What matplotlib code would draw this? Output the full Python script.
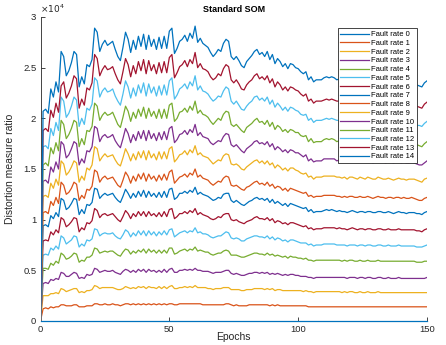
import matplotlib
matplotlib.use('Agg')
import matplotlib.pyplot as plt
from matplotlib.ticker import FuncFormatter

plt.rcParams['font.family'] = ['Liberation Sans', 'DejaVu Sans']

# distortion measure per epoch (epoch 0..150), in units of 100
fault_rate_0 = [
    0, 0, 0, 0, 0, 0, 0, 0, 0, 0, 0, 0, 0, 0, 0, 0, 0, 0, 0, 0, 0, 0, 0, 0, 0, 0, 0, 0, 0, 0,
    0, 0, 0, 0, 0, 0, 0, 0, 0, 0, 0, 0, 0, 0, 0, 0, 0, 0, 0, 0, 0, 0, 0, 0, 0, 0, 0, 0, 0, 0,
    0, 0, 0, 0, 0, 0, 0, 0, 0, 0, 0, 0, 0, 0, 0, 0, 0, 0, 0, 0, 0, 0, 0, 0, 0, 0, 0, 0, 0, 0,
    0, 0, 0, 0, 0, 0, 0, 0, 0, 0, 0, 0, 0, 0, 0, 0, 0, 0, 0, 0, 0, 0, 0, 0, 0, 0, 0, 0, 0, 0,
    0, 0, 0, 0, 0, 0, 0, 0, 0, 0, 0, 0, 0, 0, 0, 0, 0, 0, 0, 0, 0, 0, 0, 0, 0, 0, 0, 0, 0, 0,
    0]
fault_rate_1 = [
    0, 12, 13, 12, 14, 13, 14, 14, 16, 16, 15, 15, 15, 16, 16, 14, 14, 14, 15, 15,
    15, 17, 17, 16, 16, 17, 16, 16, 17, 16, 16, 15, 16, 17, 17, 16, 17, 16, 17, 16,
    17, 16, 17, 16, 17, 16, 17, 16, 17, 16, 17, 17, 16, 16, 17, 17, 17, 17, 17, 17,
    17, 17, 17, 16, 16, 16, 16, 16, 16, 16, 16, 16, 17, 17, 16, 15, 16, 15, 15, 15,
    15, 16, 16, 16, 16, 16, 16, 16, 16, 15, 16, 15, 16, 15, 15, 15, 15, 15, 15, 15,
    15, 15, 15, 15, 14, 14, 14, 14, 14, 14, 14, 14, 14, 14, 14, 14, 14, 14, 14, 14,
    14, 14, 14, 14, 14, 14, 14, 14, 14, 14, 14, 14, 14, 14, 14, 14, 14, 14, 14, 14,
    14, 14, 14, 14, 14, 14, 14, 14, 14, 14, 14]
fault_rate_2 = [
    0, 25, 25, 25, 27, 27, 28, 27, 32, 31, 29, 30, 31, 32, 32, 28, 29, 28, 30, 30,
    31, 35, 34, 32, 33, 33, 33, 33, 33, 32, 31, 31, 32, 34, 33, 32, 33, 32, 34, 33,
    34, 32, 34, 33, 33, 32, 34, 32, 34, 32, 34, 35, 32, 32, 33, 33, 34, 33, 34, 33,
    35, 33, 33, 33, 33, 32, 32, 31, 32, 32, 32, 33, 33, 33, 31, 31, 31, 31, 30, 30,
    31, 31, 31, 32, 32, 32, 32, 31, 32, 31, 32, 30, 31, 31, 30, 30, 30, 30, 30, 30,
    30, 30, 29, 30, 29, 29, 28, 29, 29, 29, 29, 29, 29, 29, 29, 29, 29, 28, 29, 28,
    29, 29, 28, 28, 29, 28, 28, 29, 28, 28, 28, 29, 28, 28, 28, 28, 28, 28, 28, 28,
    28, 28, 28, 28, 28, 28, 28, 28, 28, 28, 28]
fault_rate_3 = [
    0, 37, 38, 37, 41, 40, 42, 41, 48, 47, 44, 44, 46, 48, 47, 42, 43, 42, 46, 45,
    46, 52, 51, 48, 49, 50, 49, 49, 50, 48, 47, 46, 49, 51, 50, 48, 50, 48, 51, 49,
    51, 48, 51, 49, 50, 48, 50, 48, 51, 48, 51, 52, 48, 48, 50, 50, 51, 50, 51, 50,
    52, 50, 50, 49, 49, 49, 48, 47, 48, 48, 48, 49, 50, 50, 47, 46, 47, 46, 45, 45,
    46, 47, 47, 48, 48, 47, 48, 47, 48, 46, 47, 46, 47, 46, 45, 46, 45, 46, 46, 45,
    45, 44, 44, 44, 43, 43, 42, 43, 43, 43, 43, 43, 43, 43, 43, 43, 43, 43, 43, 42,
    43, 43, 43, 42, 43, 43, 42, 43, 43, 42, 42, 43, 43, 42, 42, 43, 42, 42, 42, 43,
    42, 42, 42, 42, 42, 42, 42, 42, 42, 42, 43]
fault_rate_4 = [
    0, 52, 52, 51, 57, 55, 59, 57, 67, 65, 61, 62, 64, 67, 66, 58, 60, 59, 63, 63,
    65, 72, 71, 67, 68, 69, 68, 69, 69, 67, 65, 64, 68, 71, 70, 66, 69, 67, 70, 68,
    71, 67, 71, 68, 70, 67, 70, 67, 70, 67, 72, 72, 66, 67, 69, 70, 71, 69, 71, 70,
    73, 69, 70, 69, 68, 68, 66, 65, 66, 67, 67, 69, 70, 69, 65, 65, 65, 64, 63, 63,
    64, 65, 66, 67, 67, 66, 66, 65, 67, 65, 66, 64, 65, 64, 63, 64, 62, 64, 63, 63,
    62, 62, 61, 62, 60, 60, 59, 60, 60, 60, 60, 60, 60, 60, 60, 60, 60, 59, 60, 59,
    60, 60, 59, 59, 60, 59, 59, 60, 59, 59, 59, 60, 59, 59, 59, 59, 59, 59, 59, 59,
    59, 59, 59, 59, 59, 59, 58, 58, 58, 59, 59]
fault_rate_5 = [
    0, 65, 66, 65, 72, 70, 74, 71, 84, 82, 76, 78, 80, 84, 83, 73, 76, 74, 80, 79,
    81, 91, 90, 84, 86, 87, 86, 86, 87, 84, 82, 81, 85, 90, 88, 83, 87, 84, 89, 85,
    89, 84, 89, 85, 88, 84, 88, 85, 89, 85, 90, 91, 83, 85, 87, 88, 89, 87, 89, 88,
    92, 87, 88, 86, 86, 85, 83, 82, 83, 84, 84, 86, 88, 87, 82, 81, 82, 81, 79, 79,
    81, 82, 83, 84, 84, 83, 83, 82, 84, 81, 83, 80, 82, 81, 79, 80, 78, 80, 80, 79,
    78, 77, 77, 77, 75, 76, 74, 75, 75, 75, 76, 76, 76, 76, 76, 75, 75, 75, 75, 74,
    75, 75, 75, 74, 75, 75, 74, 75, 75, 74, 74, 75, 75, 74, 74, 75, 74, 74, 74, 75,
    74, 74, 74, 74, 74, 74, 73, 73, 73, 74, 75]
fault_rate_6 = [
    0, 79, 80, 79, 88, 85, 90, 87, 102, 100, 93, 95, 98, 102, 101, 88, 92, 90, 97, 96,
    99, 111, 109, 102, 105, 106, 104, 105, 106, 103, 100, 98, 103, 109, 106, 101, 106, 103, 108, 104,
    108, 103, 108, 104, 106, 103, 107, 103, 108, 103, 110, 111, 101, 103, 106, 106, 108, 106, 109, 107,
    111, 105, 107, 105, 104, 103, 101, 100, 101, 103, 102, 105, 106, 106, 100, 99, 100, 98, 97, 96,
    98, 99, 100, 102, 103, 101, 101, 100, 102, 99, 101, 97, 99, 98, 96, 97, 95, 97, 97, 96,
    95, 94, 93, 94, 91, 92, 90, 91, 91, 91, 92, 92, 92, 92, 92, 91, 92, 91, 91, 90,
    91, 92, 91, 90, 91, 91, 90, 91, 91, 90, 90, 91, 91, 90, 90, 91, 90, 90, 90, 91,
    90, 90, 90, 90, 90, 90, 89, 89, 88, 90, 91]
fault_rate_7 = [
    0, 94, 95, 93, 104, 101, 107, 103, 121, 119, 110, 112, 116, 121, 120, 105, 110, 106, 115, 114,
    117, 131, 130, 121, 124, 126, 124, 125, 126, 122, 119, 117, 123, 130, 126, 121, 126, 122, 128, 123,
    129, 122, 128, 123, 126, 122, 127, 122, 128, 122, 130, 131, 120, 122, 126, 126, 128, 126, 129, 127,
    132, 125, 127, 125, 124, 123, 121, 119, 120, 122, 121, 125, 126, 126, 119, 117, 119, 117, 115, 114,
    116, 118, 119, 121, 122, 120, 121, 119, 121, 117, 120, 116, 118, 116, 114, 116, 113, 116, 115, 114,
    113, 112, 111, 112, 108, 110, 107, 108, 108, 108, 109, 110, 109, 110, 109, 108, 109, 108, 108, 107,
    108, 109, 108, 107, 108, 108, 107, 108, 108, 107, 107, 108, 108, 107, 107, 108, 107, 106, 107, 108,
    107, 107, 106, 107, 107, 107, 106, 106, 105, 107, 108]
fault_rate_8 = [
    0, 107, 108, 106, 118, 114, 122, 116, 137, 134, 125, 127, 131, 137, 135, 119, 124, 121, 130, 129,
    133, 149, 147, 137, 141, 143, 140, 141, 142, 138, 134, 132, 139, 147, 143, 136, 143, 138, 145, 140,
    146, 138, 145, 140, 143, 138, 144, 139, 145, 139, 147, 149, 136, 139, 142, 143, 145, 142, 146, 144,
    150, 142, 144, 141, 140, 139, 136, 134, 136, 138, 137, 141, 143, 142, 134, 133, 134, 132, 130, 129,
    132, 133, 135, 137, 138, 135, 136, 134, 137, 133, 135, 131, 133, 132, 129, 131, 128, 131, 130, 129,
    128, 127, 126, 127, 123, 124, 122, 123, 123, 123, 124, 124, 124, 124, 124, 123, 123, 122, 123, 122,
    123, 123, 122, 122, 123, 122, 122, 123, 122, 121, 122, 123, 122, 122, 121, 122, 122, 121, 122, 122,
    121, 122, 121, 121, 122, 121, 120, 119, 119, 121, 122]
fault_rate_9 = [
    0, 123, 124, 122, 136, 131, 140, 134, 158, 155, 144, 147, 152, 158, 156, 137, 143, 139, 151, 149,
    154, 172, 170, 158, 162, 165, 162, 163, 164, 159, 155, 153, 161, 170, 165, 158, 165, 159, 167, 161,
    168, 159, 168, 161, 165, 159, 167, 160, 167, 160, 170, 172, 157, 160, 164, 165, 168, 164, 169, 166,
    173, 164, 166, 163, 162, 161, 158, 155, 157, 159, 158, 163, 165, 164, 155, 154, 155, 153, 150, 149,
    152, 154, 156, 158, 159, 156, 158, 155, 158, 154, 156, 151, 154, 152, 149, 151, 148, 151, 151, 149,
    148, 146, 145, 146, 142, 143, 140, 142, 142, 142, 143, 143, 143, 143, 143, 142, 142, 141, 142, 140,
    142, 142, 141, 140, 142, 141, 140, 142, 141, 140, 140, 142, 141, 140, 140, 141, 140, 139, 140, 141,
    140, 140, 139, 140, 140, 140, 139, 138, 137, 140, 141]
fault_rate_10 = [
    0, 138, 139, 136, 152, 147, 157, 150, 177, 174, 161, 164, 170, 177, 175, 154, 160, 156, 168, 167,
    172, 192, 190, 177, 182, 184, 181, 182, 184, 178, 174, 171, 180, 190, 185, 176, 184, 178, 187, 180,
    188, 178, 188, 180, 185, 178, 186, 179, 187, 179, 190, 192, 176, 179, 184, 185, 188, 184, 189, 186,
    194, 183, 186, 182, 181, 180, 176, 174, 176, 178, 177, 182, 185, 184, 174, 172, 174, 171, 168, 166,
    170, 172, 174, 177, 178, 175, 176, 174, 177, 172, 175, 169, 172, 170, 167, 169, 166, 169, 168, 166,
    166, 164, 162, 164, 158, 160, 157, 158, 158, 158, 160, 160, 160, 160, 160, 158, 159, 158, 158, 157,
    158, 159, 158, 157, 158, 158, 157, 158, 158, 156, 157, 158, 158, 157, 156, 158, 157, 156, 157, 158,
    156, 157, 156, 156, 157, 156, 155, 154, 154, 156, 158]
fault_rate_11 = [
    0, 154, 156, 153, 171, 165, 176, 168, 198, 194, 180, 184, 190, 198, 196, 172, 180, 174, 188, 187,
    192, 215, 212, 198, 203, 206, 203, 204, 206, 200, 194, 191, 201, 212, 207, 197, 206, 200, 209, 202,
    211, 200, 210, 202, 207, 200, 209, 200, 209, 200, 213, 215, 197, 200, 206, 207, 210, 206, 212, 208,
    217, 205, 208, 204, 203, 201, 197, 194, 197, 200, 198, 204, 207, 206, 194, 192, 194, 191, 188, 186,
    191, 193, 195, 198, 200, 196, 197, 194, 198, 192, 196, 189, 193, 191, 187, 189, 186, 189, 188, 186,
    186, 183, 182, 183, 177, 180, 176, 177, 177, 177, 179, 180, 179, 180, 179, 177, 178, 177, 177, 176,
    177, 178, 177, 176, 177, 177, 176, 177, 177, 175, 176, 177, 177, 176, 175, 177, 176, 174, 176, 177,
    175, 176, 174, 175, 176, 175, 174, 173, 172, 175, 177]
fault_rate_12 = [
    0, 172, 173, 170, 190, 183, 196, 188, 221, 217, 201, 205, 212, 221, 218, 192, 200, 194, 210, 208,
    214, 240, 237, 221, 227, 230, 226, 227, 229, 222, 217, 213, 224, 237, 231, 220, 230, 222, 233, 225,
    235, 222, 234, 225, 231, 222, 232, 223, 233, 223, 237, 240, 219, 223, 229, 231, 234, 229, 236, 232,
    242, 228, 232, 227, 226, 224, 220, 217, 219, 222, 221, 227, 231, 229, 217, 214, 217, 213, 209, 208,
    212, 215, 217, 221, 222, 218, 220, 217, 221, 214, 218, 211, 215, 212, 208, 211, 207, 211, 210, 208,
    207, 204, 203, 204, 198, 200, 196, 198, 198, 198, 199, 200, 199, 200, 199, 198, 198, 197, 198, 196,
    198, 198, 197, 196, 198, 197, 196, 198, 197, 195, 196, 198, 197, 196, 195, 197, 196, 194, 196, 197,
    195, 196, 194, 195, 196, 195, 193, 193, 192, 195, 197]
fault_rate_13 = [
    0, 188, 190, 187, 208, 201, 215, 206, 232, 236, 220, 225, 232, 242, 239, 210, 219, 213, 230, 228,
    235, 263, 259, 242, 248, 252, 248, 249, 251, 244, 238, 234, 246, 259, 253, 241, 252, 244, 256, 247,
    258, 244, 257, 247, 253, 244, 255, 245, 256, 245, 260, 263, 240, 245, 251, 253, 257, 251, 258, 254,
    265, 250, 254, 249, 248, 246, 241, 238, 240, 244, 242, 249, 253, 251, 238, 235, 238, 234, 229, 228,
    233, 236, 238, 242, 244, 239, 241, 238, 242, 235, 239, 231, 236, 233, 228, 231, 227, 231, 230, 228,
    227, 224, 222, 224, 217, 219, 215, 217, 217, 217, 218, 219, 218, 219, 218, 217, 217, 216, 217, 215,
    217, 217, 216, 215, 217, 216, 215, 217, 216, 214, 215, 217, 216, 215, 214, 216, 215, 213, 215, 216,
    214, 215, 213, 214, 215, 214, 212, 211, 210, 214, 216]
fault_rate_14 = [
    0, 207, 209, 205, 229, 221, 236, 226, 266, 261, 242, 247, 255, 266, 263, 231, 241, 234, 253, 251,
    258, 289, 285, 266, 273, 277, 272, 274, 276, 268, 261, 257, 270, 285, 278, 265, 277, 268, 281, 271,
    283, 268, 282, 271, 278, 268, 280, 269, 281, 269, 286, 289, 264, 269, 276, 278, 282, 276, 284, 279,
    291, 275, 279, 274, 272, 270, 265, 261, 264, 268, 266, 274, 278, 276, 261, 258, 261, 257, 252, 250,
    256, 259, 262, 266, 268, 263, 265, 261, 266, 258, 263, 254, 259, 256, 251, 254, 249, 254, 253, 250,
    249, 246, 244, 246, 238, 241, 236, 238, 238, 238, 240, 241, 240, 241, 240, 238, 239, 237, 238, 236,
    238, 239, 237, 236, 238, 237, 236, 238, 237, 235, 236, 238, 237, 236, 235, 237, 236, 234, 236, 237,
    235, 236, 234, 235, 236, 235, 233, 232, 231, 235, 237]

series = [fault_rate_0, fault_rate_1, fault_rate_2, fault_rate_3, fault_rate_4,
          fault_rate_5, fault_rate_6, fault_rate_7, fault_rate_8, fault_rate_9,
          fault_rate_10, fault_rate_11, fault_rate_12, fault_rate_13, fault_rate_14]
labels = ['Fault rate %d' % k for k in range(len(series))]
colors = ['#0072BD', '#D95319', '#EDB120', '#7E2F8E', '#77AC30', '#4DBEEE', '#A2142F']
axis_color = '#262626'

fig = plt.figure(figsize=(4.46, 3.45), dpi=100)
ax = fig.add_axes([40.5 / 446, 24 / 345, 386.5 / 446, 304 / 345])

for k, vals in enumerate(series):
    ax.plot(range(len(vals)), [v * 100 for v in vals], color=colors[k % 7],
            lw=0.9, label=labels[k], clip_on=(k != 0), zorder=3)

ax.set_xlim(0, 150)
ax.set_ylim(0, 30000)
ax.set_xticks([0, 50, 100, 150])
ax.set_yticks(range(0, 30001, 5000))
ax.yaxis.set_major_formatter(FuncFormatter(lambda v, p: '%g' % (v / 1e4)))
for side in ['top', 'right']:
    ax.spines[side].set_visible(False)
for side in ['left', 'bottom']:
    ax.spines[side].set_color(axis_color)
    ax.spines[side].set_linewidth(0.6)
ax.tick_params(direction='in', length=3, width=0.6, labelsize=6.8,
               colors=axis_color, pad=3)
ax.text(0.0, 1.006, r'$\times10^{4}$', transform=ax.transAxes, fontsize=6.5,
        color=axis_color, ha='left', va='bottom')

ax.set_title('Standard SOM', fontsize=6.5, fontweight='bold', pad=3.5)
ax.set_xlabel('Epochs', fontsize=7.5, color=axis_color)
ax.set_ylabel('Distortion measure ratio', fontsize=7.5, color=axis_color)
ax.xaxis.set_label_coords(0.5, -0.035)
ax.yaxis.set_label_coords(-0.065, 0.5)

leg = ax.legend(loc='upper right', bbox_to_anchor=(416.7 / 446, 1 - 28.3 / 345),
                bbox_transform=fig.transFigure, fontsize=5.5, frameon=True,
                fancybox=False, framealpha=1, edgecolor=axis_color, borderaxespad=0,
                handlelength=3.7, handletextpad=0.3, labelspacing=0.18, borderpad=0.35)
leg.get_frame().set_linewidth(0.6)

fig.savefig('out.png', dpi=100)
